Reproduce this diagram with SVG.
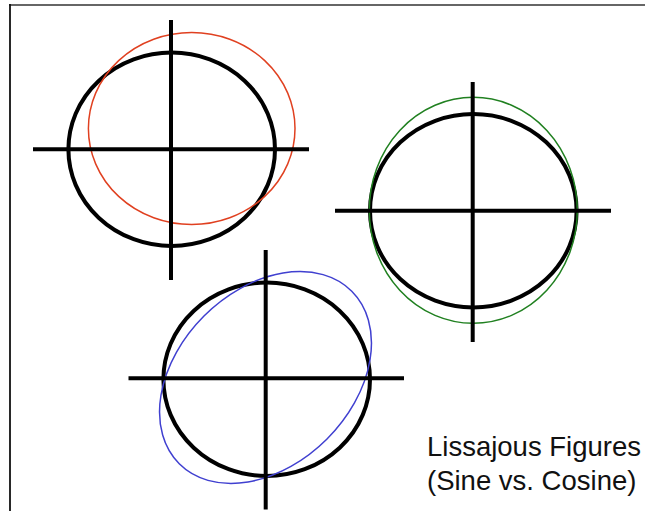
<svg xmlns="http://www.w3.org/2000/svg" width="645" height="511" viewBox="0 0 645 511">
<style>
.axis{stroke:#000;stroke-width:4;fill:none}
.base{stroke:#000;stroke-width:4;fill:none}
.curve{fill:none;stroke-width:1.5}
.lbl{font-family:"Liberation Sans",Arial,sans-serif;font-size:27.5px;fill:#111}
</style>
<rect width="645" height="511" fill="#fff"/>
<g id="frame">
<line x1="9" y1="5" x2="645" y2="5" stroke="#666" stroke-width="1.8"/>
<line x1="10" y1="4" x2="10" y2="511" stroke="#111" stroke-width="1.8"/>
</g>
<g id="fig1">
<ellipse class="base" cx="171.7" cy="149.3" rx="103.3" ry="96.7"/>
<ellipse class="curve" stroke="#e04020" cx="191.7" cy="128.5" rx="103.3" ry="96"/>
<line class="axis" x1="171" y1="20" x2="171" y2="280"/>
<line class="axis" x1="33" y1="149.3" x2="309" y2="149.3"/>
</g>
<g id="fig2">
<ellipse class="base" cx="473.3" cy="210.7" rx="103.3" ry="96.7"/>
<ellipse class="curve" stroke="#208020" cx="473.3" cy="210.3" rx="104" ry="113"/>
<line class="axis" x1="472.7" y1="82" x2="472.7" y2="342"/>
<line class="axis" x1="335" y1="210.7" x2="611" y2="210.7"/>
</g>
<g id="fig3">
<ellipse class="base" cx="266.7" cy="379.3" rx="103.3" ry="96.7"/>
<ellipse class="curve" stroke="#4040d0" cx="265.5" cy="377.5" rx="122" ry="87" transform="rotate(-45 265.5 377.5)"/>
<line class="axis" x1="265.7" y1="250" x2="265.7" y2="509.5"/>
<line class="axis" x1="128.5" y1="378.3" x2="404" y2="378.3"/>
</g>
<g id="caption">
<text class="lbl" x="427" y="456">Lissajous Figures</text>
<text class="lbl" x="427" y="490">(Sine vs. Cosine)</text>
</g>
</svg>
